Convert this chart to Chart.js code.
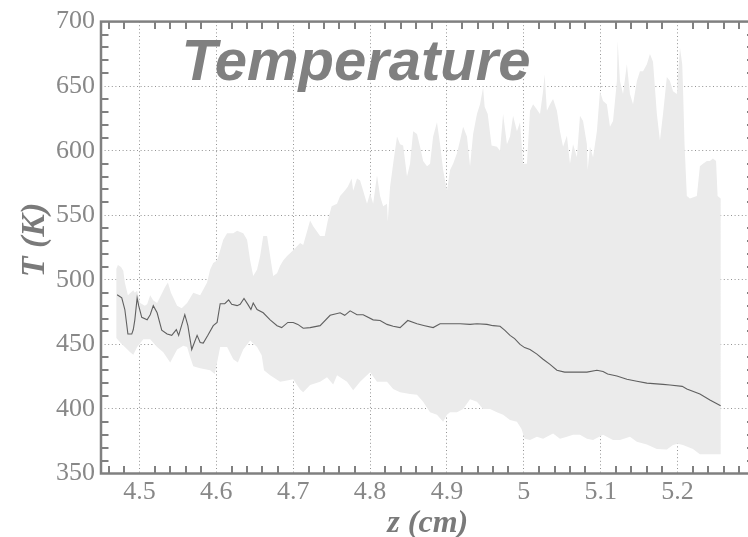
<!DOCTYPE html>
<html><head><meta charset="utf-8">
<script src="https://cdn.jsdelivr.net/npm/chart.js@4.4.0/dist/chart.umd.min.js"></script>
<style>
html,body{margin:0;padding:0;background:#fff;overflow:hidden;width:748px;height:537px}
#wrap{position:absolute;left:0;top:0;width:762px;height:537px}
</style></head>
<body><div id="wrap"><canvas id="c" width="762" height="537"></canvas></div>
<script>
// ---- data (z in cm, T in K) ----
const upperZ = [4.470,4.472,4.476,4.479,4.481,4.485,4.492,4.494,4.497,4.501,4.507,4.510,4.514,4.518,4.523,4.533,4.537,4.541,4.549,4.555,4.562,4.570,4.579,4.588,4.592,4.596,4.601,4.605,4.609,4.614,4.622,4.627,4.635,4.640,4.644,4.648,4.653,4.657,4.661,4.666,4.670,4.674,4.679,4.683,4.687,4.692,4.700,4.709,4.713,4.722,4.726,4.735,4.741,4.745,4.750,4.757,4.761,4.767,4.771,4.776,4.778,4.783,4.787,4.791,4.796,4.800,4.804,4.809,4.813,4.817,4.822,4.823,4.826,4.830,4.835,4.839,4.843,4.848,4.852,4.856,4.861,4.865,4.869,4.874,4.878,4.882,4.887,4.891,4.895,4.900,4.904,4.908,4.913,4.917,4.921,4.926,4.930,4.934,4.939,4.943,4.947,4.949,4.953,4.958,4.965,4.969,4.973,4.978,4.982,4.986,4.991,4.995,4.999,5.004,5.008,5.012,5.017,5.021,5.025,5.027,5.030,5.034,5.038,5.043,5.047,5.051,5.056,5.060,5.064,5.069,5.073,5.077,5.082,5.083,5.086,5.090,5.095,5.099,5.103,5.108,5.112,5.116,5.121,5.122,5.125,5.129,5.134,5.138,5.142,5.147,5.151,5.155,5.160,5.164,5.168,5.173,5.177,5.181,5.186,5.190,5.194,5.199,5.203,5.206,5.207,5.209,5.212,5.216,5.225,5.229,5.233,5.238,5.242,5.246,5.250,5.252,5.256];
const upperT = [508.5,511.5,510,507,498,488,492,490,491.5,482,480,481,488,484,482,494,498,490,480,478,482,490,488,498,508,513,515,523,531,536,536,538,536,531,515,503,508,518.5,534,534,518.5,503,505,511,515,518.5,523,528.5,527,546,541.5,534,534,546,557,559,565,569,572,578.5,569,578.5,577,569,559,567,559,581,565,557,559,545,572,590,611,605,604,580,590,615,613,603,592,588,590,611,622,605,585,569,585,590,598,608,618.5,611,588,613,628.5,636,649,634,628.5,604,603,600,628.5,605,611,627,615,622,590,590,631,636,632,628.5,646,659,631,636,640,631,615,603,611.5,590,605,595,627,623,605,585,603,595,615,646,638.5,636,618.5,623,654,685,654,644,667,644,636,654,661.5,661.5,667,675,669,628.5,608,628.5,657,654,646,644,680,667,649,605,565,563,565,588,590,592,592,594,592,565,563];
const lowerZ = [4.470,4.475,4.481,4.488,4.492,4.497,4.505,4.514,4.523,4.531,4.540,4.549,4.557,4.562,4.566,4.570,4.579,4.592,4.598,4.601,4.605,4.614,4.622,4.628,4.635,4.644,4.653,4.659,4.662,4.670,4.683,4.692,4.700,4.709,4.713,4.722,4.735,4.744,4.752,4.757,4.770,4.778,4.787,4.800,4.809,4.822,4.830,4.839,4.852,4.861,4.869,4.878,4.887,4.895,4.900,4.904,4.913,4.921,4.930,4.939,4.947,4.956,4.965,4.973,4.982,4.991,4.997,5.001,5.008,5.017,5.025,5.038,5.047,5.056,5.064,5.073,5.082,5.090,5.103,5.116,5.125,5.138,5.147,5.160,5.173,5.186,5.194,5.200,5.207,5.220,5.229,5.242,5.256];
const lowerT = [455,451.5,448,444,442,448,454,454,448,444,436,446,449,448,440,433,431.5,430,427,436,448,448,438.5,436,446,453,448,441.5,430,426,421,422,423,415,413,418.5,421,424.5,419,426,421,414.5,421,428.5,421,421,415.5,413,411.5,411,405.5,397.5,395.5,390,395.5,397.5,397.5,400,407.5,405.5,400,400,397.5,395.5,391.5,390,384.5,377,376,378.5,377,381,377,378.5,380,380,377,376,380,376,376,378.5,374.5,372.5,369,368.5,372,373,372,369,365,365,365];
const meanZ = [4.471,4.477,4.481,4.485,4.490,4.492,4.494,4.497,4.499,4.503,4.510,4.514,4.518,4.523,4.529,4.536,4.542,4.548,4.551,4.559,4.563,4.568,4.575,4.579,4.583,4.589,4.596,4.601,4.605,4.611,4.616,4.620,4.627,4.631,4.636,4.641,4.645,4.648,4.653,4.661,4.670,4.679,4.685,4.693,4.700,4.706,4.713,4.722,4.735,4.748,4.761,4.767,4.774,4.783,4.791,4.804,4.813,4.822,4.830,4.839,4.849,4.861,4.871,4.882,4.891,4.904,4.917,4.930,4.939,4.952,4.960,4.969,4.975,4.982,4.988,4.995,5.001,5.008,5.017,5.025,5.034,5.043,5.053,5.066,5.082,5.095,5.103,5.109,5.121,5.134,5.147,5.160,5.181,5.190,5.206,5.212,5.229,5.242,5.256];
const meanT = [488.5,486,477,458,458,461.5,469,486,480,471,469,473,480,474.5,461,458,457,461.5,457,473,464.5,446,457,451.5,451,457,464.5,467,481.5,481.5,484.5,481,480,481,485.5,481,477,482,477,474.5,469,464.5,463,467,467,465.5,462.5,463,464.5,472.5,474.5,472.5,476,473,473,469,468.5,465.5,464,463,468.5,466,464.5,463,466,466,466,465.5,466,465.5,464.5,464,461,457,454.5,450,447.5,446,442.5,438.5,434.5,430,428.5,428.5,428.5,430,429,427,425.5,423,421.5,420,419,418.5,417.5,415.5,411.5,407,402.5];
const xTicks = [4.5,4.6,4.7,4.8,4.9,5,5.1,5.2];
const yTicks = [350,400,450,500,550,600,650,700];
const chartTitle = 'Temperature';
const xTitle = 'z (cm)';
const yTitle = 'T (K)';

const meanPts = meanZ.map((z,i)=>({x:z,y:meanT[i]}));
const bandPts = upperZ.map((z,i)=>({x:z,y:upperT[i]}))
  .concat(lowerZ.map((z,i)=>({x:z,y:lowerT[i]})).reverse());

const GRAY = '#808080';
const framePlugin = {
  id:'frame',
  afterDraw(chart){
    const {ctx, chartArea:a, scales:{x,y}} = chart;
    ctx.save();
    ctx.strokeStyle = GRAY;
    ctx.lineWidth = 2.5;
    ctx.strokeRect(a.left, a.top, a.right-a.left, a.bottom-a.top);
    ctx.lineWidth = 2;
    const L = 7.5;
    ctx.beginPath();
    for (let k=446; k<=528; k+=2){
      if (k%10===0) continue;
      const px = Math.round(x.getPixelForValue(k/100));
      ctx.moveTo(px, a.bottom); ctx.lineTo(px, a.bottom-L);
      ctx.moveTo(px, a.top); ctx.lineTo(px, a.top+L);
    }
    for (let k=360; k<=690; k+=10){
      if (k%50===0) continue;
      const py = Math.round(y.getPixelForValue(k));
      ctx.moveTo(a.left, py); ctx.lineTo(a.left+L, py);
      ctx.moveTo(a.right, py); ctx.lineTo(a.right-L, py);
    }
    ctx.stroke();
    // texts
    ctx.fillStyle = GRAY;
    ctx.textAlign = 'center';
    ctx.textBaseline = 'alphabetic';
    ctx.font = 'italic bold 58px "Liberation Sans", Arial, sans-serif';
    ctx.fillText(chartTitle, 356, 80);
    ctx.fillStyle = '#7a7a7a';
    ctx.font = 'italic bold 32px "Liberation Serif", "Times New Roman", serif';
    ctx.fillText(xTitle, (a.left+a.right)/2, 532);
    ctx.save();
    ctx.font = 'italic bold 34px "Liberation Serif", "Times New Roman", serif';
    ctx.translate(44, 240);
    ctx.rotate(-Math.PI/2);
    ctx.fillText(yTitle, 0, 0);
    ctx.restore();
    ctx.restore();
  }
};

const tickFont = {family:'"Liberation Serif", "Times New Roman", serif', size:26};
new Chart(document.getElementById('c'), {
  type:'line',
  data:{datasets:[
    {data:meanPts, borderColor:'#606060', borderWidth:1.1, pointRadius:0, tension:0, fill:false},
    {data:bandPts, borderWidth:0, borderColor:'rgba(0,0,0,0)', backgroundColor:'#ebebeb', pointRadius:0, tension:0, fill:'shape'}
  ]},
  options:{
    responsive:false, animation:false, devicePixelRatio:1,
    layout:{padding:{top:17, right:7.5, left:0, bottom:0}},
    plugins:{legend:{display:false}, tooltip:{enabled:false}},
    scales:{
      x:{type:'linear', min:4.45, max:5.3,
        afterBuildTicks:s=>{s.ticks = xTicks.map(v=>({value:v}));},
        afterFit:s=>{s.height = 63.5;},
        ticks:{autoSkip:false, maxRotation:0, padding:3, color:'#888888', font:tickFont, callback:v=>String(v)},
        grid:{drawTicks:false, color:'#939393', lineWidth:1},
        border:{display:false, dash:[1,2.6]}
      },
      y:{type:'linear', min:350, max:700,
        afterBuildTicks:s=>{s.ticks = yTicks.map(v=>({value:v}));},
        afterFit:s=>{s.width = 101;},
        ticks:{autoSkip:false, padding:6, color:'#888888', font:tickFont, callback:v=>String(v)},
        grid:{drawTicks:false, color:'#939393', lineWidth:1},
        border:{display:false, dash:[1,2.6]}
      }
    }
  },
  plugins:[framePlugin]
});
</script>
</body></html>
